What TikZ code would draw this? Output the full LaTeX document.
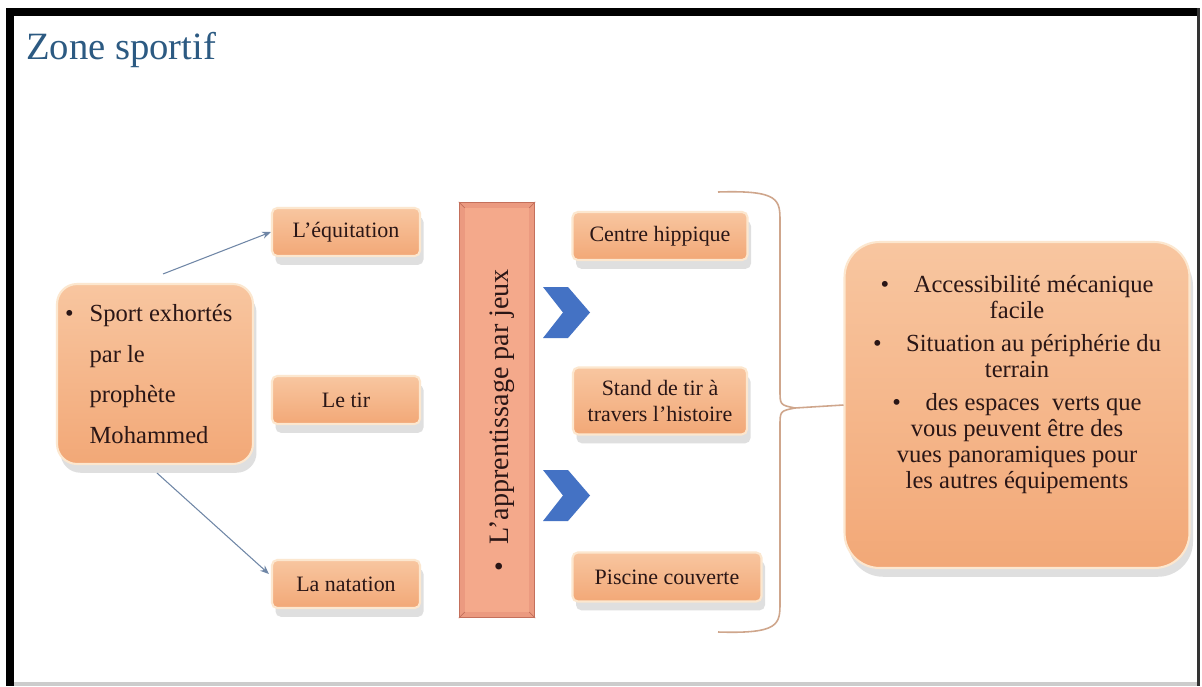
\documentclass[tikz,border=0pt]{standalone}
\usepackage{fontspec}
\setmainfont{Liberation Serif}
\usepackage{tikz}
\usetikzlibrary{shadows,arrows.meta}

\definecolor{boxtop}{HTML}{F8C6A0}
\definecolor{boxbot}{HTML}{F2A877}
\definecolor{boxrim}{HTML}{FCE7CF}
\definecolor{ink}{HTML}{2A1616}
\definecolor{titleblue}{HTML}{2C5A82}
\definecolor{chevblue}{HTML}{4472C4}
\definecolor{arrowgray}{HTML}{6F86A6}
\definecolor{bracec}{HTML}{CFA68C}
\definecolor{barface}{HTML}{F4A98B}
\definecolor{baredge}{HTML}{C4705C}
\definecolor{barbevel}{HTML}{EB9A80}

\begin{document}
\begin{tikzpicture}[x=0.02cm,y=-0.02cm,
  box/.style={rectangle, rounded corners=3pt, top color=boxtop, bottom color=boxbot,
    draw=boxrim, line width=1.2pt, text=ink, align=center, inner sep=2pt,
    font=\fontsize{12.5}{15}\selectfont,
    drop shadow={shadow xshift=2pt, shadow yshift=-5pt, opacity=0.25}},
  conn/.style={arrowgray, line width=0.6pt, -{Stealth[length=5pt,width=4pt]}},
  brace/.style={bracec, line width=0.9pt}]
\useasboundingbox (0,0) rectangle (1202,686);
\fill[white] (0,0) rectangle (1202,686);

% frame
\fill[black] (6,8) rectangle (1200,16);
\fill[black] (6,8) rectangle (14,686);
\fill[black!80] (1197,8) rectangle (1200,686);
\fill[black!20] (14,682) rectangle (1197,686);

% title
\node[anchor=west, text=titleblue, font=\fontsize{22}{26}\selectfont] (title) at (20,50) {Zone sportif};

% left column
\node[box, rounded corners=0.4cm, minimum width=3.92cm, minimum height=3.6cm, align=flush left,
  text width=3.6cm, font=\fontsize{14}{23}\selectfont] (sport) at (155,374)
  {\makebox[1em][l]{\textbullet}Sport exhortés\\\hspace*{1em}par le\\\hspace*{1em}prophète\\\hspace*{1em}Mohammed};

\foreach \name/\y/\txt in {equi/232/L'équitation, tir/400/Le tir, nat/584/La natation}
  \node[box, minimum width=2.96cm, minimum height=0.96cm] (\name) at (346,\y) {\txt};

\draw[conn] ([shift={(8,-9)}]sport.north) -- (equi.west);
\draw[conn] ([shift={(2,8)}]sport.south) -- ([shift={(-2,-10)}]nat.west);

% bevelled bar
\node[rectangle, fill=barbevel, draw=baredge, line width=0.8pt, minimum width=1.5cm,
  minimum height=8.3cm] (jeux) at (497,410) {};
\fill[barface] ([shift={(6,6)}]jeux.north west) rectangle ([shift={(-6,-6)}]jeux.south east);
\draw[baredge, line width=0.4pt] (jeux.north west) -- ++(6,6) (jeux.north east) -- ++(-6,6)
  (jeux.south west) -- ++(6,-6) (jeux.south east) -- ++(-6,-6);
\node[rotate=90, text=ink, font=\fontsize{16}{18}\selectfont] (jeuxtxt) at (502,420)
  {\textbullet\hspace{0.6em}L'apprentissage par jeux};

% chevrons
\foreach \y in {287,470}
  \fill[chevblue] (543,\y) -- ++(25,0) -- ++(22,25.5) -- ++(-22,25.5) -- ++(-25,0) -- ++(20,-25.5) -- cycle;

% right column
\node[box, minimum width=3.5cm, minimum height=0.96cm] (hip) at (660,236) {Centre hippique};
\node[box, minimum width=3.48cm, minimum height=1.34cm] (stand) at (660,401) {Stand de tir à\\travers l'histoire};
\node[box, minimum width=3.78cm, minimum height=0.98cm] (pisc) at (667,577) {Piscine couverte};

% summary box
\node[box, rounded corners=0.7cm, minimum width=6.9cm, minimum height=6.52cm, inner sep=0pt,
  font=\fontsize{14}{14.8}\selectfont] (big) at (1017,405)
  {\parbox[c][6.3cm][t]{6.4cm}{\centering\vspace*{0.55cm}
   \textbullet\quad Accessibilité mécanique\\ facile\\[4pt]
   \textbullet\quad Situation au périphérie du\\ terrain\\[4pt]
   \textbullet\quad des espaces\ \ verts que\\ vous peuvent être des\\ vues panoramiques pour\\ les autres équipements}};

% brace
\draw[brace] (718,192) .. controls (780,190) and (780,200) .. (780,222) -- (780,390)
  .. controls (780,405) .. (795,408) coordinate (tip);
\draw[brace] (718,632) .. controls (780,634) and (780,624) .. (780,602) -- (780,426)
  .. controls (780,411) .. (tip);
\draw[brace] (tip) -- (big.west);
\end{tikzpicture}
\end{document}
